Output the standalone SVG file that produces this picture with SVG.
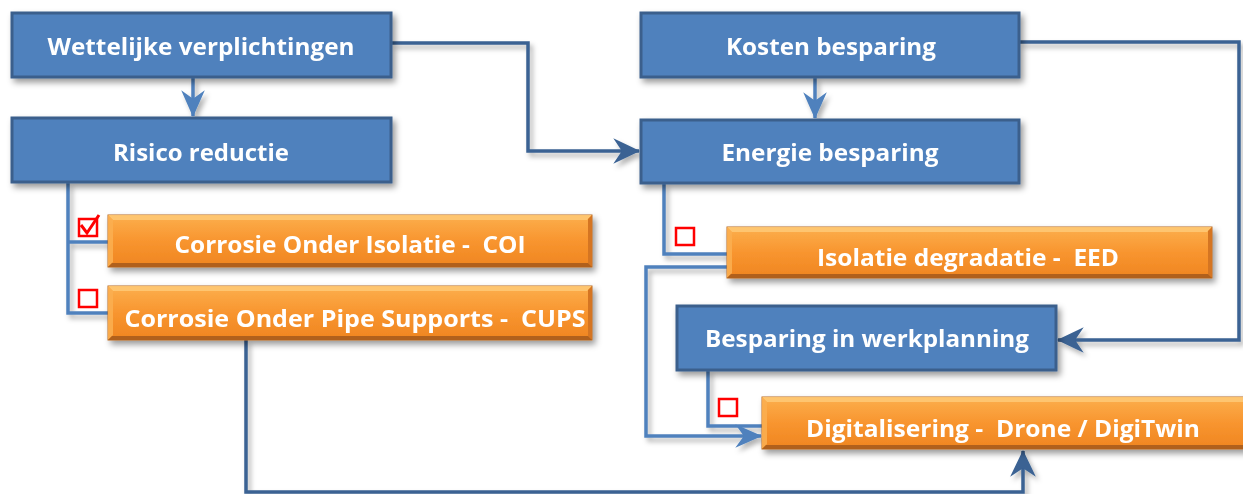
<svg xmlns="http://www.w3.org/2000/svg" width="1243" height="494" viewBox="0 0 1243 494">
<style>
.blue{fill:#4F81BD;stroke:#3A5F8C;stroke-width:3}
.lbl{font-family:"Open Sans","Noto Sans","Liberation Sans",sans-serif;font-weight:bold;font-size:24px;fill:#FFFFFF;text-anchor:middle;white-space:pre;font-variant-ligatures:none}
.obase{fill:url(#og);stroke:#B8691F;stroke-width:1}
.btop{fill:#FEC873;opacity:0.9}
.bleft{fill:#FBAE50;opacity:0.9}
.bright{fill:#D57520}
.bbot{fill:#B0611A}
.dark{fill:none;stroke:#3A6293;stroke-width:3.5}
.light{fill:none;stroke:#4F81BD;stroke-width:3.5}
.cb{fill:#FFFFFF;stroke:#FF0000;stroke-width:2.5}
</style>
<defs>
<linearGradient id="og" x1="0" y1="0" x2="0" y2="1">
<stop offset="0" stop-color="#FCAF4D"/>
<stop offset="0.5" stop-color="#F8952F"/>
<stop offset="1" stop-color="#EF8521"/>
</linearGradient>
<filter id="sh" x="-10%" y="-20%" width="130%" height="160%">
<feDropShadow dx="3" dy="4" stdDeviation="3" flood-color="#000000" flood-opacity="0.4"/>
</filter>
<filter id="lsh" x="-5%" y="-5%" width="110%" height="110%">
<feDropShadow dx="3" dy="4" stdDeviation="2.5" flood-color="#000000" flood-opacity="0.3"/>
</filter>
<marker id="ad" markerUnits="userSpaceOnUse" markerWidth="30" markerHeight="30" viewBox="-26 -13 28 26" refX="0" refY="0" orient="auto">
<path d="M1,0 L-24,-12 L-16,0 L-24,12 Z" fill="#3A6293"/>
</marker>
<marker id="al" markerUnits="userSpaceOnUse" markerWidth="30" markerHeight="30" viewBox="-26 -13 28 26" refX="0" refY="0" orient="auto">
<path d="M1,0 L-24,-11 L-16,0 L-24,11 Z" fill="#4F81BD"/>
</marker>
</defs>
<rect width="1243" height="494" fill="#FFFFFF"/>
<g id="connectors" filter="url(#lsh)">
<path class="light" d="M193,78 V116" marker-end="url(#al)"/>
<path class="dark" d="M392,43 H528 V151 H639" marker-end="url(#ad)"/>
<path class="light" d="M815,78 V118" marker-end="url(#al)"/>
<path class="dark" d="M1020,42 H1239 V340 H1058" marker-end="url(#ad)"/>
<path class="light" d="M68,183 V313 H108 M68,242 H108"/>
<path class="light" d="M664,184 V254 H727"/>
<path class="light" d="M727,267 H646 V436 H761" marker-end="url(#al)"/>
<path class="light" d="M708,370 V426 H762"/>
<path class="dark" d="M246,340 V492 H1023 V451" marker-end="url(#ad)"/>
</g>
<g id="n-wettelijke" filter="url(#sh)">
<rect class="blue" x="12" y="13" width="379" height="64"/>
<text class="lbl" x="201" y="55" textLength="307" lengthAdjust="spacingAndGlyphs">Wettelijke verplichtingen</text>
</g>
<g id="n-risico" filter="url(#sh)">
<rect class="blue" x="12" y="118" width="379" height="64"/>
<text class="lbl" x="201" y="161" textLength="176" lengthAdjust="spacingAndGlyphs">Risico reductie</text>
</g>
<g id="n-kosten" filter="url(#sh)">
<rect class="blue" x="641" y="13" width="378" height="64"/>
<text class="lbl" x="831" y="55" textLength="210" lengthAdjust="spacingAndGlyphs">Kosten besparing</text>
</g>
<g id="n-energie" filter="url(#sh)">
<rect class="blue" x="641" y="120" width="378" height="63"/>
<text class="lbl" x="830" y="161" textLength="217" lengthAdjust="spacingAndGlyphs">Energie besparing</text>
</g>
<g id="n-besparing" filter="url(#sh)">
<rect class="blue" x="677" y="306" width="379" height="64"/>
<text class="lbl" x="867" y="347" textLength="324" lengthAdjust="spacingAndGlyphs">Besparing in werkplanning</text>
</g>
<g id="n-coi" filter="url(#sh)">
<rect class="obase" x="108" y="215" width="484" height="52"/>
<polygon class="btop" points="108,215 592,215 587,220 113,220"/>
<polygon class="bleft" points="108,215 113,220 113,262 108,267"/>
<polygon class="bright" points="592,215 592,267 588,263 588,219"/>
<polygon class="bbot" points="108,267 592,267 588,263 112,263"/>
<text class="lbl" x="350" y="253" textLength="351" lengthAdjust="spacingAndGlyphs">Corrosie Onder Isolatie -  COI</text>
</g>
<g id="n-cups" filter="url(#sh)">
<rect class="obase" x="108" y="286" width="484" height="54"/>
<polygon class="btop" points="108,286 592,286 587,291 113,291"/>
<polygon class="bleft" points="108,286 113,291 113,335 108,340"/>
<polygon class="bright" points="592,286 592,340 588,336 588,290"/>
<polygon class="bbot" points="108,340 592,340 588,336 112,336"/>
<text class="lbl" x="355" y="327" textLength="461" lengthAdjust="spacingAndGlyphs">Corrosie Onder Pipe Supports -  CUPS</text>
</g>
<g id="n-eed" filter="url(#sh)">
<rect class="obase" x="727" y="227" width="485" height="51"/>
<polygon class="btop" points="727,227 1212,227 1207,232 732,232"/>
<polygon class="bleft" points="727,227 732,232 732,273 727,278"/>
<polygon class="bright" points="1212,227 1212,278 1208,274 1208,231"/>
<polygon class="bbot" points="727,278 1212,278 1208,274 731,274"/>
<text class="lbl" x="968" y="266" textLength="302" lengthAdjust="spacingAndGlyphs">Isolatie degradatie -  EED</text>
</g>
<g id="n-digitalisering" filter="url(#sh)">
<rect class="obase" x="762" y="397" width="490" height="52"/>
<polygon class="btop" points="762,397 1252,397 1247,402 767,402"/>
<polygon class="bleft" points="762,397 767,402 767,444 762,449"/>
<polygon class="bbot" points="762,449 1252,449 1248,445 766,445"/>
<text class="lbl" x="1003" y="437" textLength="394" lengthAdjust="spacingAndGlyphs">Digitalisering -  Drone / DigiTwin</text>
</g>
<g id="checkboxes">
<rect class="cb" x="79" y="219" width="18" height="17"/>
<path d="M81,225 L87,233 L99,215" fill="none" stroke="#FF0000" stroke-width="3"/>
<rect class="cb" x="79" y="290" width="18" height="17"/>
<rect class="cb" x="676" y="228" width="18" height="17"/>
<rect class="cb" x="719" y="399" width="18" height="17"/>
</g>
</svg>
